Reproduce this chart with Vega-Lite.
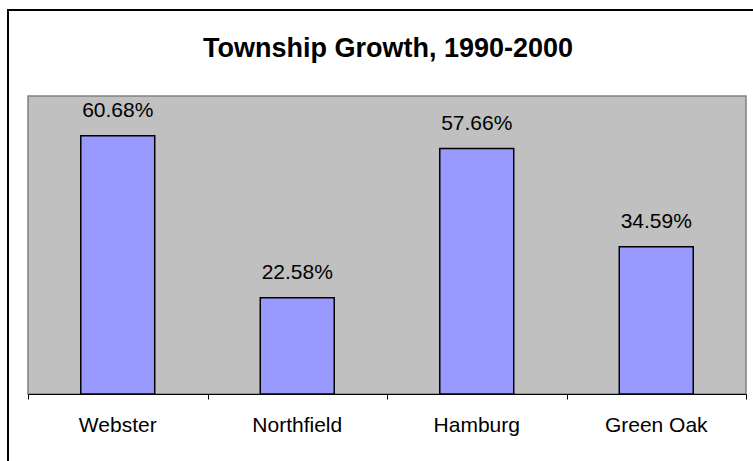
{
  "$schema": "https://vega.github.io/schema/vega-lite/v6.json",
  "width": 760,
  "height": 460,
  "autosize": {"type": "none"},
  "padding": {"left": 8, "top": 10, "right": 0, "bottom": 0},
  "background": "white",
  "config": {
    "font": "Liberation Sans",
    "view": {"stroke": "black", "strokeWidth": 2, "fill": "white"}
  },
  "title": {
    "text": "Township Growth, 1990-2000",
    "orient": "top",
    "anchor": "middle",
    "frame": "group",
    "offset": -74,
    "baseline": "alphabetic",
    "fontSize": 27,
    "fontWeight": "bold",
    "font": "Liberation Sans",
    "color": "black"
  },
  "data": {
    "values": [
      {"township": "Webster", "growth": 0.6068},
      {"township": "Northfield", "growth": 0.2258},
      {"township": "Hamburg", "growth": 0.5766},
      {"township": "Green Oak", "growth": 0.3459}
    ]
  },
  "layer": [
    {
      "data": {"values": [{}]},
      "mark": {"type": "rect", "fill": "#C0C0C0", "stroke": "#808080", "strokeWidth": 1.5},
      "encoding": {
        "x": {
          "datum": 0,
          "type": "quantitative",
          "scale": {"domain": [0, 1], "range": [20, 738], "nice": false, "zero": false},
          "axis": {
            "orient": "bottom",
            "values": [0, 0.25, 0.5, 0.75, 1],
            "labels": false,
            "ticks": true,
            "tickSize": 5,
            "tickColor": "black",
            "tickWidth": 1,
            "domainColor": "black",
            "domainWidth": 1,
            "grid": false,
            "title": null,
            "offset": -76,
            "zindex": 1
          }
        },
        "x2": {"datum": 1},
        "y": {
          "datum": 0,
          "type": "quantitative",
          "scale": {"domain": [0, 0.7], "range": [384, 86], "nice": false},
          "axis": null
        },
        "y2": {"datum": 0.7}
      }
    },
    {
      "encoding": {
        "x": {
          "field": "township",
          "type": "nominal",
          "sort": null,
          "scale": {"range": [20, 738], "paddingInner": 0.588, "paddingOuter": 0.294},
          "axis": {
            "orient": "bottom",
            "domain": false,
            "ticks": false,
            "grid": false,
            "labelFontSize": 21,
            "labelColor": "black",
            "labelPadding": 37,
            "labelBaseline": "alphabetic",
            "labelAngle": 0,
            "title": null,
            "offset": -76
          }
        },
        "y": {
          "field": "growth",
          "type": "quantitative",
          "scale": {"domain": [0, 0.7], "range": [384, 86], "nice": false},
          "axis": null
        }
      },
      "layer": [
        {
          "mark": {"type": "bar", "fill": "#9999FF", "stroke": "black", "strokeWidth": 1.5}
        },
        {
          "mark": {"type": "text", "fontSize": 21, "color": "black", "baseline": "alphabetic", "dy": -19},
          "encoding": {"text": {"field": "growth", "type": "quantitative", "format": ".2%"}}
        }
      ]
    }
  ],
  "resolve": {"scale": {"x": "independent"}, "axis": {"x": "independent"}}
}
